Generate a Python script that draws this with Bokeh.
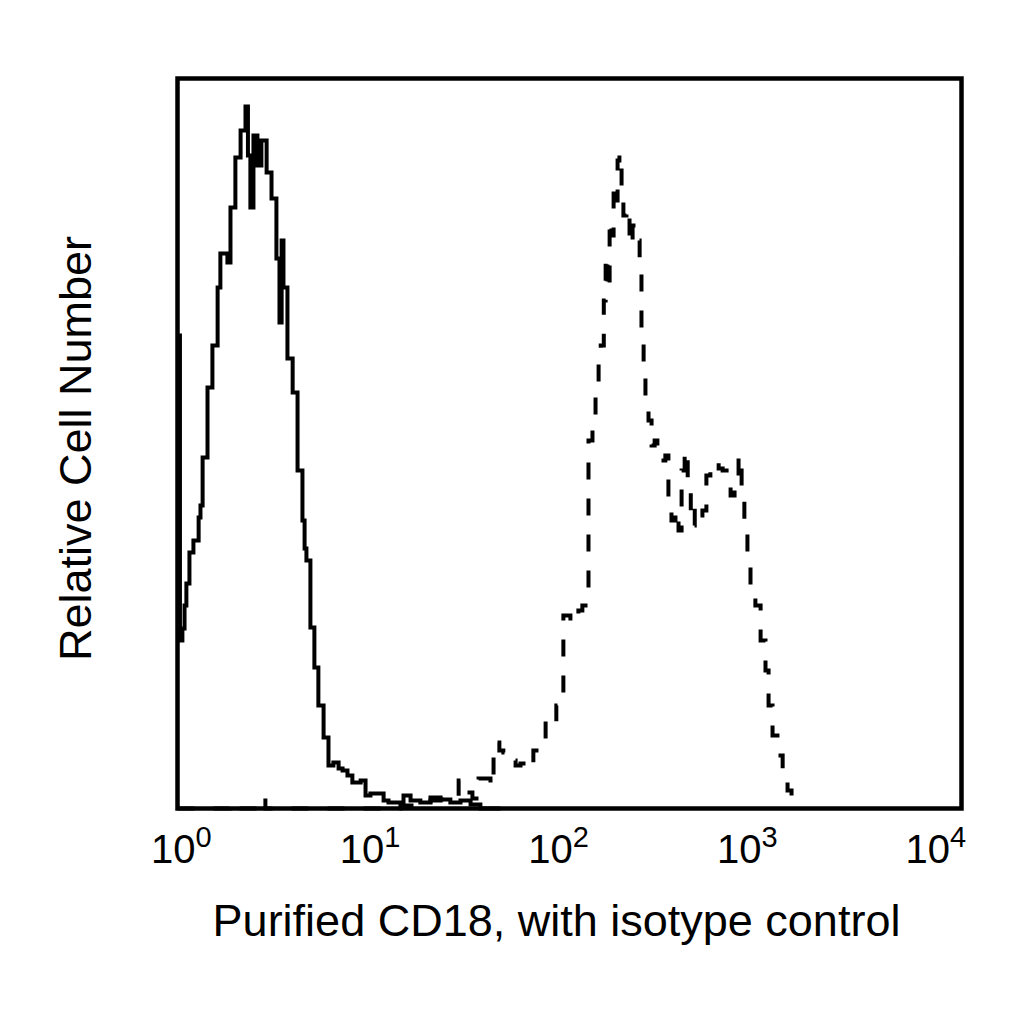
import numpy as np
from bokeh.plotting import figure
from bokeh.models import Range1d
from bokeh.core.properties import value
from bokeh.embed import file_html
from bokeh.resources import INLINE

# 256-channel log histogram; calibration of channel -> fluorescence
N_CH = 256
CH_PER_DECADE = 61.6
CH_OFFSET = 1.96   # channel that reads 10^0

# isotype control (solid) - channel where each step starts, and its count
solid_channel = [0.0, 0.8, 1.6, 2.3, 2.9, 3.9, 5.2, 6.9, 7.5, 8.2, 9.8, 11.4,
                 13.1, 14.0, 16.3, 17.3, 18.9, 20.6, 22.2, 23.0, 23.8, 24.8,
                 26.1, 27.4, 29.1, 30.7, 32.3, 33.3, 34.0, 34.6, 35.9, 37.6,
                 39.2, 40.8, 41.5, 42.1, 43.4, 44.7, 46.0, 47.7, 49.3, 50.9,
                 52.6, 53.9, 55.5, 57.1, 59.8, 61.4, 63.0, 67.3, 68.9, 73.8,
                 76.1, 79.3, 82.6, 85.9, 89.1, 92.4, 95.7, 98.9, 105.5]
solid_count = [473, 168, 180, 203, 225, 256, 268, 291, 303, 351, 421, 463,
               521, 555, 546, 601, 651, 678, 702, 653, 601, 673,
               643, 668, 636, 610, 550, 486, 568, 521, 450, 416,
               338, 288, 260, 248, 181, 141, 103, 71, 43, 46,
               40, 38, 33, 26, 28, 13, 15, 8, 6, 13,
               8, 6, 11, 9, 6, 8, 4, 0, 0]

# purified CD18 (dashed)
dashed_channel = [0.0, 17.0, 19.6, 26.4, 28.7, 72.8, 82.6, 85.9, 90.8, 91.8,
                  93.4, 96.3, 98.3, 102.2, 103.2, 105.1, 106.4, 108.4, 110.4,
                  112.0, 114.6, 116.2, 117.9, 120.2, 122.1, 123.7, 126.0,
                  128.3, 130.9, 132.2, 134.2, 135.5, 136.5, 137.5, 138.2,
                  139.2, 139.8, 140.4, 141.1, 141.7, 142.4, 143.0, 143.7,
                  144.3, 145.0, 145.6, 146.6, 147.6, 148.6, 149.9, 150.9,
                  151.5, 152.2, 152.8, 153.8, 154.8, 155.8, 156.7, 158.0,
                  159.3, 160.3, 161.3, 162.6, 163.6, 164.6, 165.6, 166.6,
                  167.6, 168.9, 170.1, 171.4, 172.7, 174.0, 175.3, 176.7,
                  178.0, 179.3, 180.6, 181.9, 183.2, 184.2, 185.1, 186.1,
                  187.1, 188.7, 190.4, 192.0, 193.0, 194.3, 195.9, 197.6,
                  199.2, 200.5]
dashed_count = [0, 5, 0, 10, 0, 3, 8, 9, 12, 28,
                16, 10, 30, 22, 66, 58, 56, 48, 43,
                45, 40, 58, 63, 90, 86, 103, 193,
                186, 198, 203, 368, 390, 423, 448, 463,
                508, 553, 518, 588, 573, 623, 608, 648,
                655, 618, 593, 600, 563, 583, 568, 543,
                473, 433, 398, 388, 363, 368, 353, 348,
                353, 308, 288, 298, 278, 338, 358, 318,
                283, 303, 293, 298, 333, 343, 346, 340,
                338, 330, 313, 328, 353, 308, 278, 253,
                213, 203, 168, 138, 103, 73, 53, 33,
                18, 0]

decade_values = [1, 10, 100, 1000, 10000]
decade_exponents = ["0", "1", "2", "3", "4"]

FONT = "Liberation Sans"
W = H = 1008
FRAME_L, FRAME_R, FRAME_T, FRAME_B = 177, 961, 78, 808
COUNT_MAX = FRAME_B - FRAME_T
PX_PER_CH = (FRAME_R - FRAME_L) / N_CH


def ch_to_int(ch):
    return 10 ** ((np.asarray(ch, dtype=float) - CH_OFFSET) / CH_PER_DECADE)


def px_to_int(px):
    return float(ch_to_int((px - FRAME_L) / PX_PER_CH))


# the whole canvas is the data area, so texts below/left of the box are drawn too
p = figure(width=W, height=H, x_axis_type="log",
           x_range=Range1d(px_to_int(0), px_to_int(W)),
           y_range=Range1d(FRAME_B - H, FRAME_B),
           x_axis_location=None, y_axis_location=None,
           output_backend="svg", toolbar_location=None, min_border=0)
p.xgrid.visible = False
p.ygrid.visible = False
p.outline_line_color = None

p.step(ch_to_int(solid_channel), solid_count, mode="after", line_color="black",
       line_width=4, line_join="miter")
p.step(ch_to_int(dashed_channel), dashed_count, mode="after", line_color="black",
       line_width=4, line_join="miter", line_dash="17 19")

# plot box from channel 0 to the last channel
p.quad(left=[float(ch_to_int(0))], right=[float(ch_to_int(N_CH))],
       bottom=[0], top=[COUNT_MAX], fill_color=None,
       line_color="black", line_width=4.5, line_join="miter")

# decade labels: 10 with raised exponent
p.text(x=decade_values, y=[-40] * 5, text=["10"] * 5, x_offset=12,
       text_align="right", text_baseline="alphabetic",
       text_font=value(FONT), text_font_size="40px", text_color="black")
p.text(x=decade_values, y=[-28] * 5, text=decade_exponents, x_offset=12,
       text_align="left", text_baseline="alphabetic",
       text_font=value(FONT), text_font_size="29px", text_color="black")

# axis titles
p.text(x=[px_to_int(556)], y=[-112],
       text=["Purified CD18, with isotype control"],
       text_align="center", text_baseline="alphabetic",
       text_font=value(FONT), text_font_size="45px", text_color="black")
p.text(x=[px_to_int(75)], y=[FRAME_B - 448], text=["Relative Cell Number"],
       angle=np.pi / 2, text_align="center", text_baseline="alphabetic",
       text_font=value(FONT), text_font_size="45px", text_color="black")

open("out.html", "w").write(file_html(p, INLINE))
